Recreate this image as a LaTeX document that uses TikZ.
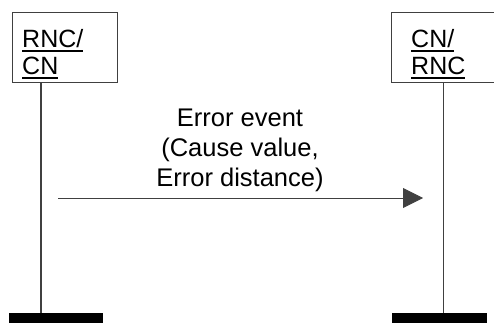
\documentclass[tikz,border=0pt]{standalone}
\usepackage{fontspec}
\setmainfont{Liberation Sans}
\usetikzlibrary{positioning}
\usetikzlibrary{arrows.meta}
\usetikzlibrary{calc}

\newcommand{\ulbox}[1]{\setbox0\hbox{#1}\rlap{\rule[-4.2pt]{\wd0}{1.9pt}}\box0}

\begin{document}
\begin{tikzpicture}[x=1pt,y=-1pt,
    entity/.style={draw=black!75, line width=0.9pt, minimum height=70pt,
        inner sep=0pt, anchor=north west},
    tag/.style={align=left, inner sep=0pt, anchor=base west,
        font=\fontsize{25}{27}\selectfont},
    lifeline/.style={draw=black!75, line width=1.2pt},
    endbar/.style={fill=black, inner sep=0pt, minimum height=11pt, anchor=north west},
    msg/.style={draw=black!75, line width=0.9pt, -{Triangle[length=20pt,width=20pt]}},
    msgtext/.style={align=center, inner sep=0pt, font=\fontsize{25.5}{30}\selectfont}]
    \useasboundingbox (0,0) rectangle (494,323);
    % entities
    \node[entity, minimum width=105pt] (rnc) at (11.7,12) {};
    \node[entity, minimum width=110pt] (cn) at (391,12) {};
    \node[tag] (rnclabel) at (22,74.7) {\ulbox{RNC/}\\\ulbox{CN}};
    \node[tag] (cnlabel) at (411,74.7) {\ulbox{CN/}\\\ulbox{RNC}};
    % end of the lifelines
    \node[endbar, minimum width=94pt] (rncbar) at (9,313) {};
    \node[endbar, minimum width=95pt] (cnbar) at (392,313) {};
    \coordinate (rncend) at (41,313);
    \coordinate (cnend) at (443.5,313);
    \draw[lifeline] (rnc.south -| rncend) -- (rncend);
    \draw[lifeline] (cn.south -| cnend) -- (cnend);
    % message
    \coordinate (from) at (58,198);
    \coordinate (to) at (423,198);
    \draw[msg] (from) -- (to);
    \node[msgtext, anchor=south] (event) at (240,192.3) {Error event\\(Cause value,\\Error distance)};
\end{tikzpicture}
\end{document}
